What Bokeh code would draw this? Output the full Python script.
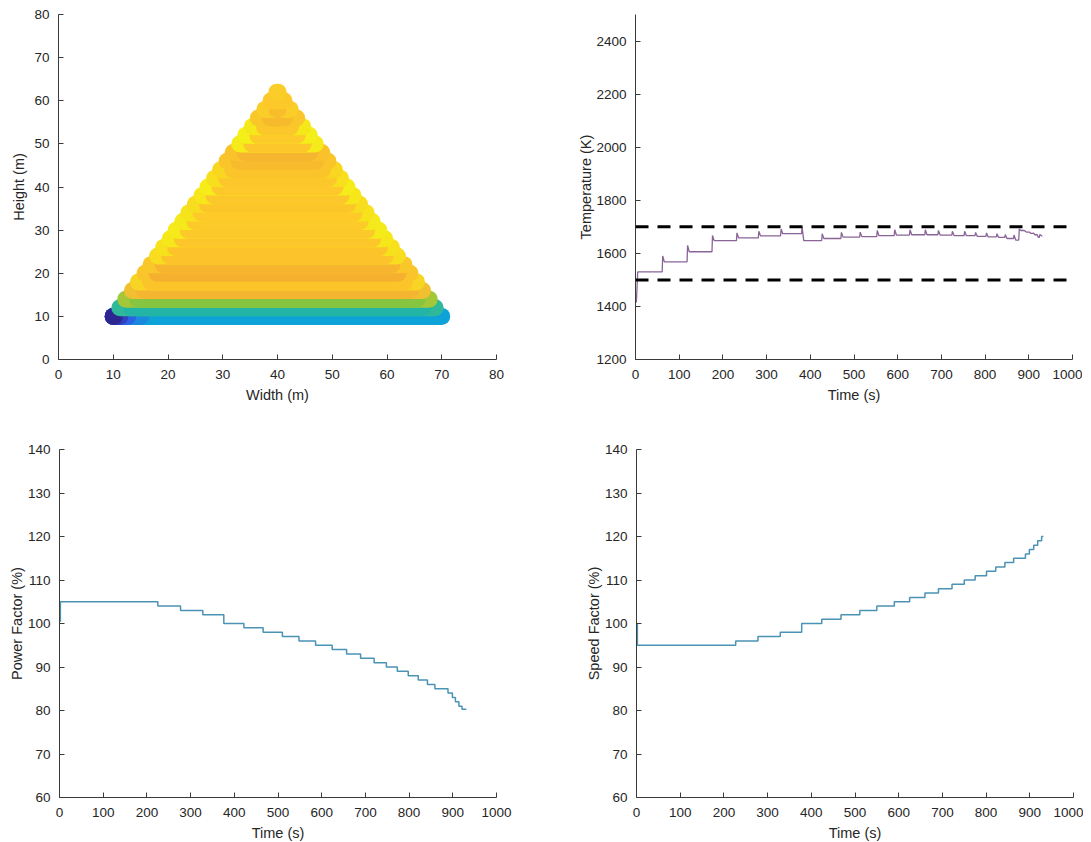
import numpy as np
from bokeh.plotting import figure
from bokeh.layouts import column, row
from bokeh.models import SingleIntervalTicker, Range1d, ColumnDataSource, Span
from bokeh.embed import file_html
from bokeh.resources import INLINE

# ---------------- data ----------------
# deposition layers (top-left): centre height, start/end of each pass, colours
layer_y = [10, 12, 14, 16, 18, 20, 22, 24, 26, 28, 30, 32, 34, 36, 38, 40, 42, 44,
           46, 48, 50, 52, 54, 56, 58, 60, 62]
layer_x0 = [10.0, 11.2, 12.3, 13.5, 14.6, 15.8, 16.9, 18.1, 19.2, 20.4, 21.5, 22.7,
            23.8, 25.0, 26.2, 27.3, 28.5, 29.6, 30.8, 31.9, 33.1, 34.2, 35.4, 36.5,
            37.7, 38.8, 39.9]
layer_x1 = [70.0, 68.8, 67.7, 66.5, 65.4, 64.2, 63.1, 61.9, 60.8, 59.6, 58.5, 57.3,
            56.2, 55.0, 53.8, 52.7, 51.5, 50.4, 49.2, 48.1, 46.9, 45.8, 44.6, 43.5,
            42.3, 41.2, 40.1]
layer_body = ["#0ea3d8", "#22b5a5", "#86c540", "#f4b631", "#fbc52a", "#f6b02f",
              "#f7b42f", "#fcc42a", "#fcc42a", "#fdc62a", "#fcc92a", "#fcca29",
              "#fdca29", "#fcc52a", "#fcc72a", "#fdc92a", "#fbc72a", "#fcc42b",
              "#f8bb2e", "#f7b630", "#fcc72a", "#fcca29", "#fbc72a", "#f8ba2d",
              "#f9bd2c", "#fcc82a", "#fbcd29"]
layer_end = ["#0ea3d8", "#2fb89a", "#a2c83a", "#f0c030", "#f8d424", "#f9c52a",
             "#f9c72a", "#f8dc20", "#f7e11c", "#f6e71b", "#f5ea1a", "#f4e91b",
             "#f6e31c", "#f8dc20", "#f6e61a", "#f5ec19", "#f8df1e", "#f9d620",
             "#fac42b", "#f9c22b", "#f5ea1a", "#f4ef18", "#f5e81a", "#f9c72a",
             "#fbcd28", "#fcc82a", "#fbcd29"]
# start of the first pass (cold start, dark blue)
ramp_x1 = [15.0, 12.6, 11.2, 10.2]
ramp_colors = ["#1a88dd", "#2b62e2", "#3040c0", "#2e2690"]

# temperature (top-right)
temp_start_t = [2, 5]
temp_start_v = [1415, 1530]
temp_step_t = [61, 118, 175, 231, 281, 332, 380, 426, 470, 513, 552, 592, 627, 662,
               692, 724, 752, 777, 802, 826, 845, 865, 877, 890, 900, 909, 917, 924]
temp_peak = [1590, 1630, 1667, 1677, 1683, 1692, 1699, 1674, 1679, 1680, 1686, 1689,
             1689, 1689, 1686, 1683, 1683, 1679, 1677, 1674, 1671, 1669, 1692, 1684,
             1680, 1677, 1672, 1671]
temp_level = [1568, 1606, 1648, 1658, 1666, 1674, 1648, 1656, 1661, 1663, 1667, 1669,
              1670, 1670, 1669, 1667, 1667, 1664, 1662, 1660, 1656, 1650, 1686, 1680,
              1675, 1670, 1660, 1666]
temp_end_t = 931
temp_limits = [1500, 1700]

# power factor (bottom-left)
pf_t = [0, 2, 225, 277, 328, 376, 422, 466, 510, 548, 586, 624, 657, 689, 720, 748,
        773, 798, 821, 842, 859, 889, 899, 906, 914, 921, 931]
pf_v = [100.5, 105, 104, 103, 102, 100, 99, 98, 97, 96, 95, 94, 93, 92, 91, 90, 89,
        88, 87, 86, 85, 84, 83, 82, 81, 80.3, 80.3]

# speed factor (bottom-right)
sf_t = [0, 2, 227, 278, 329, 378, 424, 468, 511, 550, 590, 625, 660, 691, 722, 750,
        775, 801, 822, 843, 863, 890, 899, 909, 918, 927, 931]
sf_v = [99.8, 95, 96, 97, 98, 100, 101, 102, 103, 104, 105, 106, 107, 108, 109, 110,
        111, 112, 113, 114, 115, 116, 117, 118, 119, 120, 120]

# ---------------- styling helpers ----------------
FONT = "Liberation Sans"
AX = "#3a3a3a"
TXT = "#262626"


def style(p, xlabel, ylabel, xint, yint, ystand):
    p.outline_line_color = None
    p.grid.visible = False
    p.background_fill_color = "white"
    p.border_fill_color = "white"
    p.xaxis.ticker = SingleIntervalTicker(interval=xint)
    p.yaxis.ticker = SingleIntervalTicker(interval=yint)
    p.xaxis.axis_label = xlabel
    p.yaxis.axis_label = ylabel
    for ax in (p.xaxis[0], p.yaxis[0]):
        ax.axis_line_color = AX
        ax.axis_line_width = 1
        ax.major_tick_line_color = AX
        ax.minor_tick_line_color = None
        ax.major_tick_in = 5
        ax.major_tick_out = 0
        ax.major_label_text_font = FONT
        ax.major_label_text_font_size = "13.5px"
        ax.major_label_text_color = TXT
        ax.major_label_standoff = 6
        ax.axis_label_text_font = FONT
        ax.axis_label_text_font_size = "14.5px"
        ax.axis_label_text_font_style = "normal"
        ax.axis_label_text_color = TXT
    p.xaxis[0].axis_label_standoff = 5
    p.yaxis[0].major_label_standoff = 5
    p.yaxis[0].axis_label_standoff = ystand


def make(xr, yr, fw, fh, left, right, top, bottom):
    return figure(x_range=Range1d(*xr), y_range=Range1d(*yr),
                  frame_width=fw, frame_height=fh,
                  min_border_left=left, min_border_right=right,
                  min_border_top=top, min_border_bottom=bottom,
                  output_backend="svg", toolbar_location=None)


# ---------------- top-left: deposited layers ----------------
p1 = make((0, 80), (0, 80), 438, 345, 58, 38, 14, 50)
sx0, sx1, sy, sc = [], [], [], []
for i in range(len(layer_y)):
    y = layer_y[i]
    a, b = layer_x0[i], layer_x1[i]
    sx0.append(a); sx1.append(b); sy.append(y); sc.append(layer_end[i])
    if b - a > 4.4:
        sx0.append(a + 2.2); sx1.append(b - 2.2); sy.append(y); sc.append(layer_body[i])
    if i == 0:
        for xe, c in zip(ramp_x1, ramp_colors):
            sx0.append(a); sx1.append(xe); sy.append(y); sc.append(c)
src = ColumnDataSource(dict(x0=sx0, x1=sx1, y=sy, c=sc))
p1.segment(x0="x0", x1="x1", y0="y", y1="y", source=src, line_color="c",
           line_width=17, line_cap="round")
style(p1, "Width (m)", "Height (m)", 10, 10, 4)

# ---------------- top-right: temperature ----------------
p2 = make((0, 1000), (1200, 2500), 437, 345, 101, 10, 14, 50)
tx = list(temp_start_t)
tv = list(temp_start_v)
prev = temp_start_v[-1]
for t, pk, lv in zip(temp_step_t, temp_peak, temp_level):
    tx += [t, t + 1.2, t + 5]
    tv += [prev, pk, lv]
    prev = lv
tx.append(temp_end_t)
tv.append(prev)
for lim in temp_limits:
    p2.add_layout(Span(location=lim, dimension="width", line_color="black",
                       line_width=3, line_dash="13 9"))
p2.line(tx, tv, line_color="#8a6497", line_width=1.3)
style(p2, "Time (s)", "Temperature (K)", 100, 200, -1)

# ---------------- bottom-left: power factor ----------------
p3 = make((0, 1000), (60, 140), 437, 348, 59, 39, 40, 40)
p3.step(pf_t, pf_v, mode="after", line_color="#4b93b5", line_width=1.5)
style(p3, "Time (s)", "Power Factor (%)", 100, 10, 0)

# ---------------- bottom-right: speed factor ----------------
p4 = make((0, 1000), (60, 140), 437, 348, 101, 10, 40, 40)
p4.step(sf_t, sf_v, mode="after", line_color="#4b93b5", line_width=1.5)
style(p4, "Time (s)", "Speed Factor (%)", 100, 10, 0)

layout = column(row(p1, p2), row(p3, p4))
open("out.html", "w").write(file_html(layout, INLINE))
